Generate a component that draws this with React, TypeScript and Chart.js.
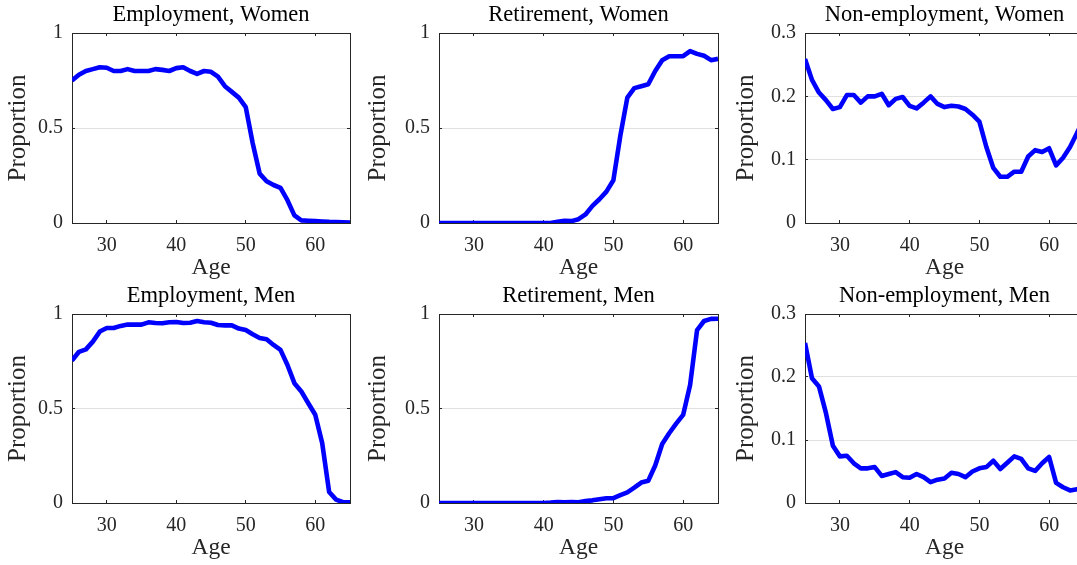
import React, { useEffect, useRef } from "react";
import { Chart, registerables } from "chart.js";

Chart.register(...registerables);

const AGES = [25, 26, 27, 28, 29, 30, 31, 32, 33, 34, 35, 36, 37, 38, 39, 40, 41, 42, 43, 44, 45, 46, 47, 48, 49, 50, 51, 52, 53, 54, 55, 56, 57, 58, 59, 60, 61, 62, 63, 64, 65];

const EMP_WOMEN = [0.75, 0.78, 0.8, 0.81, 0.82, 0.817, 0.8, 0.8, 0.81, 0.8, 0.8, 0.8, 0.81, 0.806, 0.8, 0.815, 0.82, 0.8, 0.785, 0.8, 0.796, 0.77, 0.72, 0.69, 0.66, 0.61, 0.42, 0.26, 0.22, 0.2, 0.185, 0.12, 0.04, 0.014, 0.012, 0.01, 0.008, 0.006, 0.005, 0.004, 0.002];
const RET_WOMEN = [0, 0, 0, 0, 0, 0, 0, 0, 0, 0, 0, 0, 0, 0, 0, 0, 0, 0.007, 0.012, 0.01, 0.02, 0.045, 0.09, 0.125, 0.165, 0.225, 0.46, 0.66, 0.71, 0.72, 0.73, 0.8, 0.857, 0.878, 0.878, 0.878, 0.905, 0.89, 0.88, 0.857, 0.864];
const NONEMP_WOMEN = [0.259, 0.226, 0.206, 0.194, 0.18, 0.183, 0.202, 0.202, 0.19, 0.2, 0.2, 0.204, 0.186, 0.196, 0.199, 0.185, 0.181, 0.19, 0.2, 0.188, 0.183, 0.185, 0.184, 0.18, 0.171, 0.16, 0.12, 0.087, 0.073, 0.073, 0.081, 0.081, 0.105, 0.115, 0.112, 0.118, 0.091, 0.103, 0.12, 0.142, 0.165];
const EMP_MEN = [0.754, 0.8, 0.813, 0.854, 0.907, 0.926, 0.926, 0.937, 0.944, 0.944, 0.944, 0.956, 0.952, 0.951, 0.956, 0.958, 0.952, 0.954, 0.963, 0.956, 0.954, 0.942, 0.94, 0.94, 0.923, 0.915, 0.893, 0.873, 0.866, 0.836, 0.81, 0.73, 0.634, 0.59, 0.528, 0.467, 0.317, 0.058, 0.018, 0.004, 0.004];
const RET_MEN = [0, 0, 0, 0, 0, 0, 0, 0, 0, 0, 0, 0, 0, 0, 0, 0, 0.002, 0.005, 0.004, 0.005, 0.004, 0.01, 0.014, 0.02, 0.025, 0.026, 0.042, 0.056, 0.081, 0.108, 0.118, 0.198, 0.312, 0.369, 0.42, 0.466, 0.624, 0.915, 0.963, 0.974, 0.975];
const NONEMP_MEN = [0.254, 0.198, 0.185, 0.143, 0.091, 0.074, 0.075, 0.063, 0.055, 0.055, 0.057, 0.043, 0.046, 0.049, 0.041, 0.04, 0.046, 0.041, 0.033, 0.037, 0.039, 0.048, 0.046, 0.041, 0.05, 0.055, 0.057, 0.067, 0.054, 0.064, 0.074, 0.07, 0.055, 0.051, 0.063, 0.073, 0.032, 0.025, 0.02, 0.022, 0.022];

const X_TICKS = [30, 40, 50, 60];
const X_TICK_LABELS = ["30", "40", "50", "60"];
const SHARE_TICKS = [0, 0.5, 1];
const SHARE_TICK_LABELS = ["0", "0.5", "1"];
const NONEMP_TICKS = [0, 0.1, 0.2, 0.3];
const NONEMP_TICK_LABELS = ["0", "0.1", "0.2", "0.3"];

const TITLES = [
  "Employment, Women",
  "Retirement, Women",
  "Non-employment, Women",
  "Employment, Men",
  "Retirement, Men",
  "Non-employment, Men",
];
const X_LABEL = "Age";
const Y_LABEL = "Proportion";

const FONT = "'Liberation Serif', 'Times New Roman', serif";
const DARK = "#262626";

type PanelSpec = {
  title: string;
  values: number[];
  yMax: number;
  yTicks: number[];
  yLabels: string[];
  col: number;
  row: number;
};

const PANELS: PanelSpec[] = [
  { title: TITLES[0], values: EMP_WOMEN, yMax: 1, yTicks: SHARE_TICKS, yLabels: SHARE_TICK_LABELS, col: 0, row: 0 },
  { title: TITLES[1], values: RET_WOMEN, yMax: 1, yTicks: SHARE_TICKS, yLabels: SHARE_TICK_LABELS, col: 1, row: 0 },
  { title: TITLES[2], values: NONEMP_WOMEN, yMax: 0.3, yTicks: NONEMP_TICKS, yLabels: NONEMP_TICK_LABELS, col: 2, row: 0 },
  { title: TITLES[3], values: EMP_MEN, yMax: 1, yTicks: SHARE_TICKS, yLabels: SHARE_TICK_LABELS, col: 0, row: 1 },
  { title: TITLES[4], values: RET_MEN, yMax: 1, yTicks: SHARE_TICKS, yLabels: SHARE_TICK_LABELS, col: 1, row: 1 },
  { title: TITLES[5], values: NONEMP_MEN, yMax: 0.3, yTicks: NONEMP_TICKS, yLabels: NONEMP_TICK_LABELS, col: 2, row: 1 },
];

// layout (page pixels)
const COLS = [
  { left: 0, width: 360, plotLeft: 72, plotRight: 350 },
  { left: 360, width: 368, plotLeft: 439, plotRight: 718 },
  { left: 728, width: 368, plotLeft: 805, plotRight: 1084 },
];
const ROWS = [
  { top: 0, height: 283, plotTop: 33, plotBottom: 223 },
  { top: 283, height: 282, plotTop: 314, plotBottom: 503 },
];
const X_AXIS_H = 60;
const TITLE_FONT = 22.5;
const TITLE_LH = 1.2;

function PanelChart({ spec }: { spec: PanelSpec }) {
  const ref = useRef<HTMLCanvasElement | null>(null);
  const col = COLS[spec.col];
  const row = ROWS[spec.row];

  useEffect(() => {
    if (!ref.current) return;
    const yAxisW = col.plotLeft - col.left;
    const padRight = col.left + col.width - col.plotRight;
    const plotTopIn = row.plotTop - row.top;
    const plotBottomIn = row.plotBottom - row.top;
    const padBottom = row.height - plotBottomIn - X_AXIS_H;
    const titleBlock = plotTopIn;
    const titlePadBottom = 4;
    const titlePadTop = titleBlock - TITLE_FONT * TITLE_LH - titlePadBottom;

    const setXTicks = (scale: any) => {
      scale.ticks = X_TICKS.map((v) => ({ value: v }));
    };
    const setYTicks = (scale: any) => {
      scale.ticks = spec.yTicks.map((v) => ({ value: v }));
    };

    const chart = new Chart(ref.current, {
      type: "line",
      data: {
        datasets: [
          {
            data: AGES.map((a, i) => ({ x: a, y: spec.values[i] })),
            borderColor: "#0000ff",
            backgroundColor: "#0000ff",
            borderWidth: 4.6,
            pointRadius: 0,
            pointHoverRadius: 0,
            tension: 0,
            borderJoinStyle: "round",
            fill: false,
          },
        ],
      },
      options: {
        animation: false,
        responsive: false,
        devicePixelRatio: 1,
        events: [],
        layout: { padding: { left: 0, right: padRight, top: 0, bottom: padBottom } },
        plugins: {
          legend: { display: false },
          tooltip: { enabled: false },
          title: {
            display: true,
            text: spec.title,
            fullSize: false,
            color: "#000",
            font: { family: FONT, size: TITLE_FONT, weight: "normal", lineHeight: TITLE_LH },
            padding: { top: titlePadTop, bottom: titlePadBottom },
          },
        },
        scales: {
          x: {
            type: "linear",
            position: "bottom",
            min: 25,
            max: 65,
            afterBuildTicks: setXTicks,
            afterFit: (s: any) => {
              s.height = X_AXIS_H;
            },
            grid: { display: true, drawOnChartArea: false, drawTicks: true, tickLength: -3, tickColor: DARK, lineWidth: 1 },
            border: { display: true, color: DARK, width: 1 },
            ticks: {
              padding: 14,
              maxRotation: 0,
              autoSkip: false,
              color: DARK,
              font: { family: FONT, size: 20 },
              callback: (v: any) => X_TICK_LABELS[X_TICKS.indexOf(Number(v))] ?? "",
            },
            title: {
              display: true,
              text: X_LABEL,
              color: DARK,
              font: { family: FONT, size: 23.5, lineHeight: 1.2 },
              padding: { top: 0, bottom: 1 },
            },
          },
          x2: {
            type: "linear",
            position: "top",
            axis: "x",
            min: 25,
            max: 65,
            afterBuildTicks: setXTicks,
            afterFit: (s: any) => {
              s.height = 0;
            },
            grid: { display: true, drawOnChartArea: false, drawTicks: true, tickLength: -3, tickColor: DARK },
            border: { display: true, color: DARK, width: 1 },
            ticks: { display: false },
          },
          y: {
            type: "linear",
            position: "left",
            min: 0,
            max: spec.yMax,
            afterBuildTicks: setYTicks,
            afterFit: (s: any) => {
              s.width = yAxisW;
            },
            grid: { display: true, drawOnChartArea: true, color: "#e0e0e0", lineWidth: 1, drawTicks: true, tickLength: -3, tickColor: DARK },
            border: { display: true, color: DARK, width: 1 },
            ticks: {
              padding: 12,
              autoSkip: false,
              color: DARK,
              font: { family: FONT, size: 20 },
              callback: (v: any) => spec.yLabels[spec.yTicks.indexOf(Number(v))] ?? "",
            },
            title: {
              display: true,
              text: Y_LABEL,
              color: DARK,
              font: { family: FONT, size: 25, lineHeight: 1.2 },
              padding: { top: 3, bottom: 0 },
            },
          },
          y2: {
            type: "linear",
            position: "right",
            axis: "y",
            min: 0,
            max: spec.yMax,
            afterBuildTicks: setYTicks,
            afterFit: (s: any) => {
              s.width = 0;
            },
            grid: { display: true, drawOnChartArea: false, drawTicks: true, tickLength: -3, tickColor: DARK },
            border: { display: true, color: DARK, width: 1 },
            ticks: { display: false },
          },
        },
      } as any,
    });
    return () => chart.destroy();
  }, []);

  return (
    <canvas
      ref={ref}
      width={col.width}
      height={row.height}
      style={{ position: "absolute", left: col.left, top: row.top, width: col.width, height: row.height }}
    />
  );
}

export default function App() {
  return (
    <div
      style={{
        position: "fixed",
        left: 0,
        top: 0,
        width: 1077,
        height: 565,
        overflow: "hidden",
        background: "#ffffff",
      }}
    >
      {PANELS.map((p, i) => (
        <PanelChart key={i} spec={p} />
      ))}
    </div>
  );
}
